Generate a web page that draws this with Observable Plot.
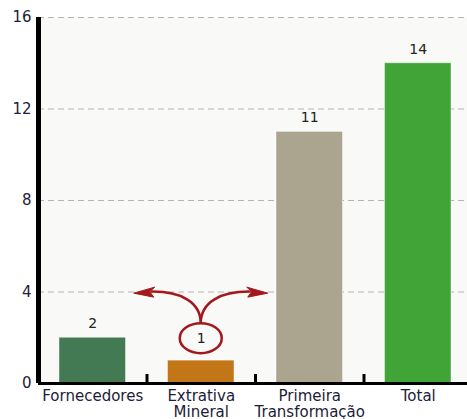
<!DOCTYPE html>
<html><head><meta charset="utf-8">
<script src="https://cdn.jsdelivr.net/npm/d3@7"></script>
<script src="https://cdn.jsdelivr.net/npm/@observablehq/plot@0.6"></script>
<style>html,body{margin:0;padding:0;background:#fff;overflow:hidden;width:467px;height:419px}</style>
</head><body><div id="chart"></div>
<script>
const categories = ["Fornecedores", "Extrativa\nMineral", "Primeira\nTransformação", "Total"];
const values = [2, 1, 11, 14];
const colors = ["#437a53", "#c27617", "#aba48f", "#40a436"];
const yTicks = [0, 4, 8, 12, 16];
const gridValues = [4, 8, 12, 16];
const highlighted = "Extrativa\nMineral";

const data = categories.map((c, i) => ({category: c, index: i, value: values[i], color: colors[i]}));
const hi = data.find(d => d.category === highlighted);
const labeled = data.filter(d => d !== hi);
const boundaries = data.slice(1).map(d => d.index);

const ink = "#1d2138";
const annoColor = "#a3181c";

function annotation(index, scales) {
  const cx = scales.x(hi.index + 0.5);
  const cy = scales.y(hi.value) - 22;
  const g = d3.create("svg:g").attr("fill", "none").attr("stroke", annoColor).attr("stroke-width", 2.5);
  g.append("ellipse").attr("cx", cx).attr("cy", cy).attr("rx", 21).attr("ry", 15);
  for (const s of [-1, 1]) {
    const p = d3.path();
    p.moveTo(cx, cy - 15);
    p.bezierCurveTo(cx, cy - 36, cx + s * 20, cy - 47, cx + s * 50, cy - 46.5);
    g.append("path").attr("d", p.toString());
    const h = d3.path();
    h.moveTo(cx + s * 67, cy - 45);
    h.lineTo(cx + s * 46, cy - 51);
    h.lineTo(cx + s * 51, cy - 46.5);
    h.lineTo(cx + s * 47, cy - 41);
    h.closePath();
    g.append("path").attr("d", h.toString()).attr("fill", annoColor).attr("stroke-width", 1);
  }
  return g.node();
}

const plot = Plot.plot({
  width: 472, height: 419,
  marginTop: 17, marginBottom: 36, marginLeft: 38, marginRight: 0,
  style: {fontFamily: "DejaVu Sans", fontSize: "15px", color: ink, background: "white", overflow: "visible", maxWidth: "none"},
  x: {domain: [0, categories.length], axis: null},
  y: {domain: [0, 16], ticks: yTicks, tickSize: 0, tickPadding: 7, label: null},
  marks: [
    Plot.frame({fill: "#f9f9f7", stroke: null}),
    Plot.ruleY(gridValues, {stroke: "#b4b4b4", strokeDasharray: "6,4", strokeWidth: 1}),
    Plot.rectY(data, {x1: d => d.index, x2: d => d.index + 1, y: "value", fill: "color", insetLeft: 21, insetRight: 21, stroke: "white", strokeOpacity: 0.45}),
    Plot.text(labeled, {x: d => d.index + 0.5, y: "value", text: d => String(d.value), dy: -14, fontSize: 14, fill: "#222"}),
    Plot.text([hi], {x: d => d.index + 0.5, y: "value", text: d => String(d.value), dy: -22, fontSize: 14, fill: "#222"}),
    annotation,
    Plot.ruleY([0], {stroke: "#000", strokeWidth: 3}),
    Plot.ruleX(boundaries, {y1: 0, y2: 0, insetTop: -9, stroke: "#000", strokeWidth: 3}),
    Plot.ruleX([0], {stroke: "#000", strokeWidth: 5}),
    Plot.text(data, {x: d => d.index + 0.5, y: 0, text: "category", lineAnchor: "top", dy: 6, fontSize: 15, fill: ink, lineHeight: 1.07})
  ]
});
plot.style.maxWidth = "none";
document.getElementById("chart").appendChild(plot);
</script>
</body></html>
